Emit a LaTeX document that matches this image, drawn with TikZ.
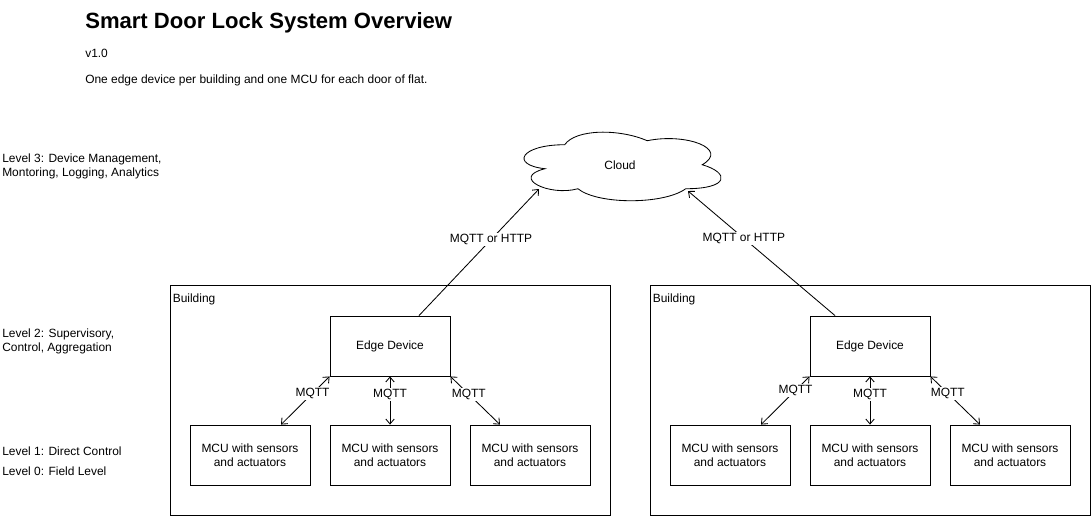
\documentclass[tikz,border=0pt]{standalone}
\usepackage{fontspec}
\setmainfont{Liberation Sans}
\usetikzlibrary{calc, arrows.meta}

\begin{document}
\begin{tikzpicture}[
x=0.025cm, y=-0.025cm,
every node/.style = {font=\fontsize{8.5}{10}\selectfont},
box/.style  = {draw, line width=0.6pt, minimum width=3cm, minimum height=1.5cm,
               align=center, inner sep=1pt},
bldg/.style = {draw, line width=0.6pt, minimum width=11cm, minimum height=5.75cm},
lvl/.style  = {anchor=west, align=left, inner sep=0pt},
lnk/.style  = {line width=0.6pt, >={Straight Barb[length=3.5pt,width=6pt]}},
tag/.style  = {fill=white, inner sep=1pt},
                    ]
\useasboundingbox (0,0) rectangle (1091,516);
% heading
\node[anchor=west, inner sep=0pt, font=\fontsize{15.7}{19}\selectfont\bfseries]
      (title) at (85,23) {Smart Door Lock System Overview};
\node[anchor=west, inner sep=0pt] (version) at (85,53) {v1.0};
\node[anchor=west, inner sep=0pt] (note) at (85,80)
      {One edge device per building and one MCU for each door of flat.};
% levels
\node[lvl] (lvl3) at (2,166) {Level 3: Device Management,\\Montoring, Logging, Analytics};
\node[lvl] (lvl2) at (2,341) {Level 2: Supervisory,\\Control, Aggregation};
\node[lvl] (lvl1) at (2,451) {Level 1: Direct Control};
\node[lvl] (lvl0) at (2,471) {Level 0: Field Level};
% cloud
\node[minimum width=5.5cm, minimum height=2cm] (cloud) at (620,165) {Cloud};
\begin{scope}[shift={(cloud.north west)}, x=5.5cm, y=-2cm]
\draw[line width=0.6pt] (0.25,0.25) .. controls (0.05,0.25) and (0,0.5) .. (0.16,0.55)
  .. controls (0,0.66) and (0.18,0.9) .. (0.31,0.8)
  .. controls (0.4,1) and (0.7,1) .. (0.8,0.8)
  .. controls (1,0.8) and (1,0.6) .. (0.875,0.5)
  .. controls (1,0.3) and (0.8,0.1) .. (0.625,0.2)
  .. controls (0.5,0.05) and (0.3,0.05) .. (0.25,0.25) -- cycle;
\end{scope}
% buildings
\foreach \b/\x in {A/390, B/870}{
  \node[bldg] (bldg\b) at (\x,400) {};
  \node[anchor=west, inner sep=0pt] (bname\b) at ($(bldg\b.north west)+(3,15)$) {Building};
  \node[box] (edge\b) at (\x,346) {Edge Device};
  \foreach \i/\dx in {1/-140, 2/0, 3/140}
    \node[box] (mcu\b\i) at (\x+\dx,455) {MCU with sensors\\and actuators};
}
% local links
\draw[lnk,<->] (edgeA.south west) -- ($(mcuA1.north)+(31,0)$) node[tag,pos=0.35] {MQTT};
\draw[lnk,<->] (edgeA.south) -- (mcuA2.north) node[tag,pos=0.37] {MQTT};
\draw[lnk,<->] (edgeA.south east) -- ($(mcuA3.north)+(-30,0)$) node[tag,pos=0.37] {MQTT};
\draw[lnk,<->] (edgeB.south west) -- ($(mcuB1.north)+(31,0)$) node[tag,pos=0.29] {MQTT};
\draw[lnk,<->] (edgeB.south) -- (mcuB2.north) node[tag,pos=0.37] {MQTT};
\draw[lnk,<->] (edgeB.south east) -- ($(mcuB3.north)+(-30,0)$) node[tag,pos=0.35] {MQTT};
% uplinks
\draw[lnk,->] ($(edgeA.north)+(29,0)$) -- ($(cloud.center)+(-81,24)$)
      node[tag,pos=0.6] {MQTT or HTTP};
\draw[lnk,->] ($(edgeB.north)+(-35,0)$) -- ($(cloud.center)+(68,26)$)
      node[tag,pos=0.62] {MQTT or HTTP};
\end{tikzpicture}
\end{document}
